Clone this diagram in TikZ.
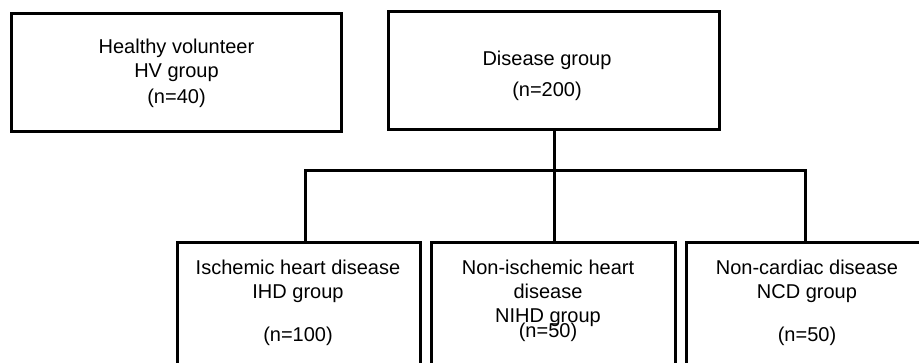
\documentclass[tikz,border=0pt]{standalone}
\usepackage{fontspec}
\setmainfont{Liberation Sans}
\usetikzlibrary{positioning}

\begin{document}
\begin{tikzpicture}[
    x=1pt, y=-1pt,
    % define styles
    grpbox/.style={
        draw,
        line width=3pt,
        inner sep=0pt
    },
    grptext/.style={
        align=center,
        anchor=north,
        inner sep=0pt,
        font=\fontsize{20}{24}\selectfont
    },
    link/.style={
        line width=3pt,
        line join=miter
    }
]
\clip (0,0) rectangle (919,363);

% top row: the two groups
\node[grpbox, minimum width=330, minimum height=118] (hv)  at (176.5,72.5) {};
\node[grpbox, minimum width=331, minimum height=118] (dis) at (554,70.5) {};

% bottom row: the three disease groups, cut off at the lower edge
\node[grpbox, minimum width=243, minimum height=150] (ihd)  at (299,317.5) {};
\node[grpbox, minimum width=244, minimum height=150] (nihd) at (553.5,317.5) {};
\node[grpbox, minimum width=260, minimum height=150] (ncd)  at (816.5,317.5) {};

% box texts
\node[grptext] (hvtxt)   at (176.5,39) {Healthy volunteer\\HV group\\[2pt](n=40)};
\node[grptext] (distxt)  at (547,51) {Disease group\\[7pt](n=200)};
\node[grptext] (ihdtxt)  at (298,260) {Ischemic heart disease\\IHD group\\[19pt](n=100)};
\node[grptext] (nihdtxt) at (548,260) {Non-ischemic heart\\disease\\NIHD group\\[-9pt](n=50)};
\node[grptext] (ncdtxt)  at (807,260) {Non-cardiac disease\\NCD group\\[19pt](n=50)};

% connectors
\coordinate (busL) at (305,171);
\coordinate (busR) at (805,171);
\draw[link] (dis.south) -- (dis.south |- nihd.north);
\draw[link] (busL |- ihd.north) -- (busL) -- (busR) -- (busR |- ncd.north);
\end{tikzpicture}
\end{document}
